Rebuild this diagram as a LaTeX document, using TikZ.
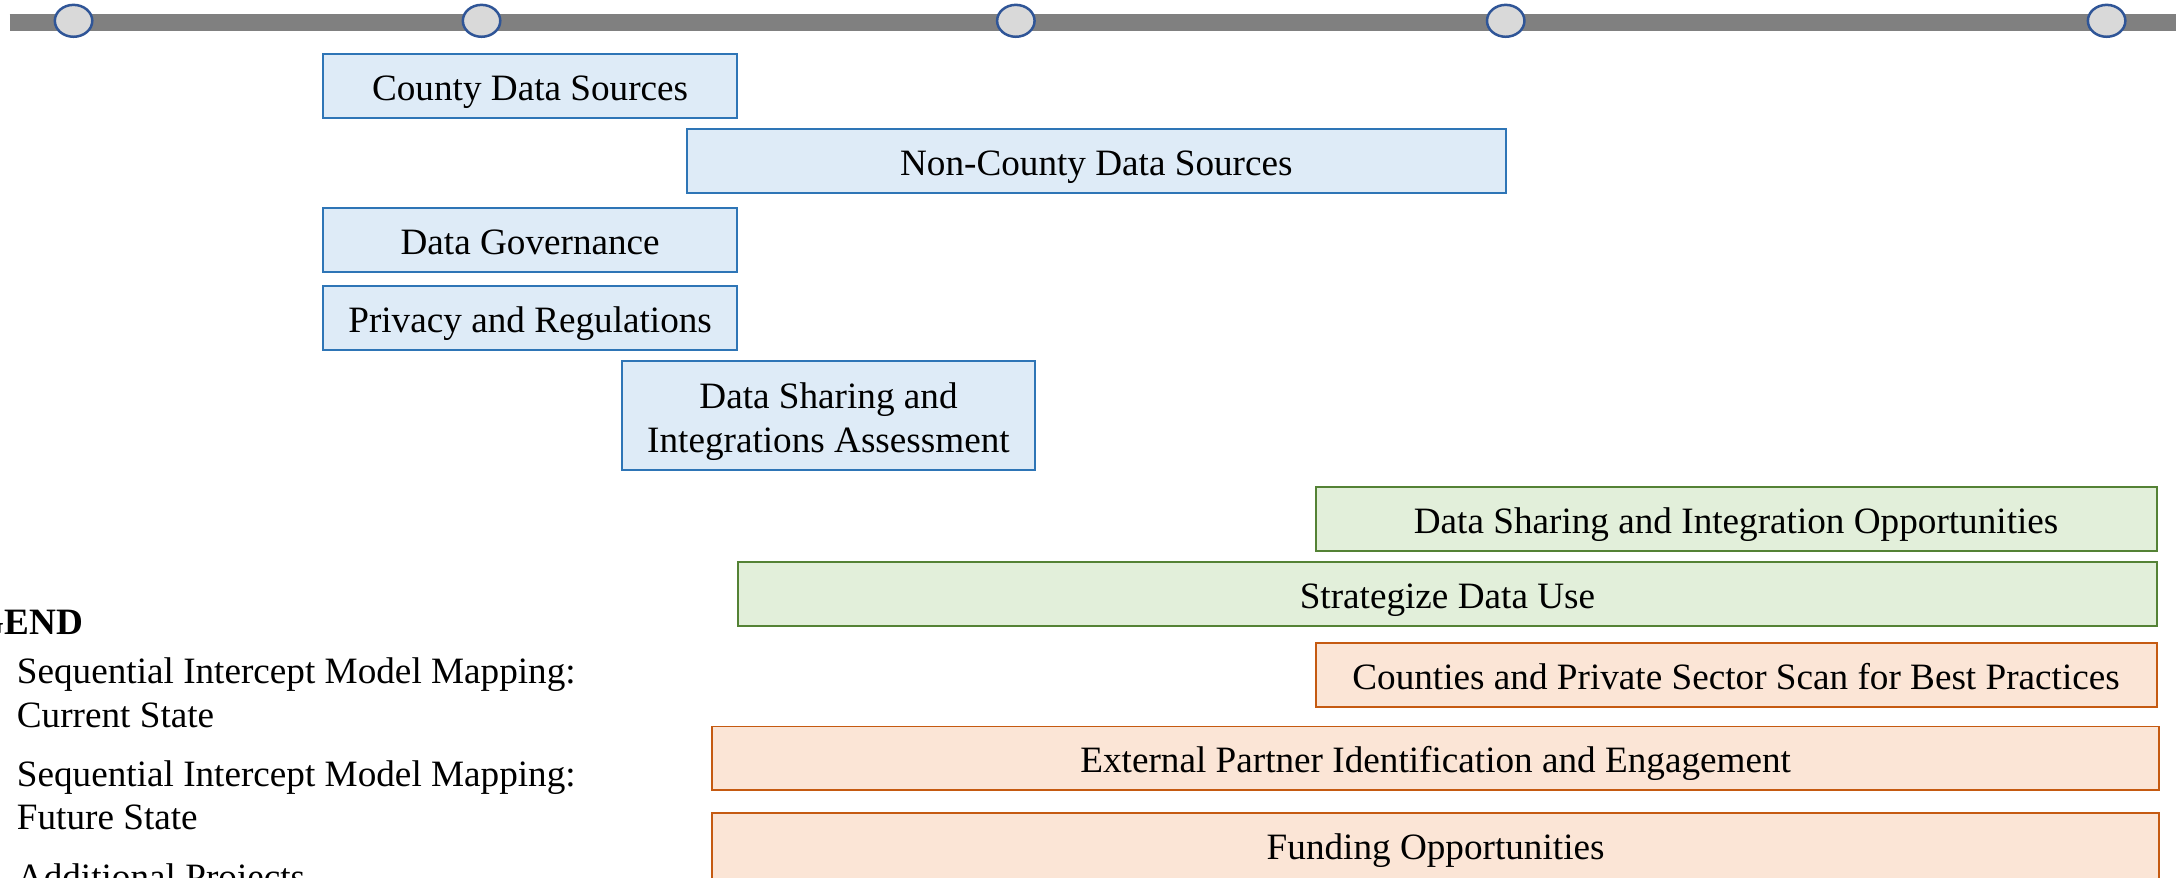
\documentclass[tikz,border=0pt]{standalone}
\usepackage{fontspec}
\setmainfont{Liberation Serif}
\usetikzlibrary{shapes.geometric}
\definecolor{bargray}{HTML}{808080}
\definecolor{stopfill}{HTML}{D9D9D9}
\definecolor{stopline}{HTML}{2F5597}
\definecolor{blueline}{HTML}{2E75B6}
\definecolor{bluefill}{HTML}{DEEBF7}
\definecolor{greenline}{HTML}{548235}
\definecolor{greenfill}{HTML}{E2EFDA}
\definecolor{orangeline}{HTML}{C55A11}
\definecolor{orangefill}{HTML}{FBE5D6}
\begin{document}
\begin{tikzpicture}[x=1pt,y=-1pt,
  every node/.style={font=\fontsize{26.8}{31.5}\selectfont, inner sep=0pt},
  task/.style={draw, line width=1.4pt, align=center, minimum height=46pt,
    text height=26pt, text depth=5pt},
  bluetask/.style={task, draw=blueline, fill=bluefill},
  greentask/.style={task, draw=greenline, fill=greenfill},
  orangetask/.style={task, draw=orangeline, fill=orangefill},
  stop/.style={ellipse, draw=stopline, fill=stopfill, line width=1.8pt,
    minimum width=27pt, minimum height=23pt},
  legend/.style={anchor=base west, align=left}]
\useasboundingbox (0,0) rectangle (1568,632);
\clip (0,0) rectangle (1568,632);
% Timeline
\coordinate (barstart) at (7,16);
\coordinate (barend) at (1568,16);
\draw[bargray, line width=12pt] (barstart) -- (barend);
\foreach \x/\n in {53/a,347/b,732/c,1085/d,1518/e}
  \node[stop] (stop\n) at (\x,15) {};
% Current state
\node[bluetask, minimum width=298pt] (county) at (382,62) {County Data Sources};
\node[bluetask, minimum width=590pt] (noncounty) at (790,116) {Non-County Data Sources};
\node[bluetask, minimum width=298pt] (governance) at (382,173) {Data Governance};
\node[bluetask, minimum width=298pt] (privacy) at (382,229) {Privacy and Regulations};
\node[bluetask, minimum width=298pt, minimum height=79pt, text height=57.5pt]
  (assessment) at (597,299.5) {Data Sharing and\\Integrations Assessment};
% Future state
\node[greentask, minimum width=606pt] (opportunities) at (1251,374)
  {Data Sharing and Integration Opportunities};
\node[greentask, minimum width=1022pt] (strategize) at (1043,428) {Strategize Data Use};
% Additional projects
\node[orangetask, minimum width=606pt] (scan) at (1251,486.5)
  {Counties and Private Sector Scan for Best Practices};
\node[orangetask, minimum width=1043pt] (partner) at (1034.5,546.5)
  {External Partner Identification and Engagement};
\node[orangetask, minimum width=1043pt, minimum height=48pt, text depth=8pt]
  (funding) at (1034.5,610) {Funding Opportunities};
% Legend
\node[anchor=base east] (legendtitle) at (60,457) {\bfseries LEGEND};
\node[legend] (legendcurrent) at (12,524) {Sequential Intercept Model Mapping:\\Current State};
\node[legend] (legendfuture) at (12,598) {Sequential Intercept Model Mapping:\\Future State};
\node[legend] (legendextra) at (12,641) {Additional Projects};
\end{tikzpicture}
\end{document}
